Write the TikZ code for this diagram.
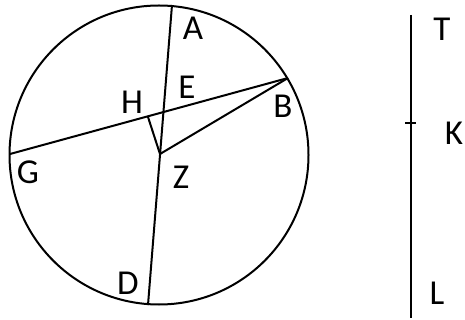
\documentclass[tikz,border=0pt]{standalone}
\usepackage{fontspec}
\setmainfont{Carlito}
\begin{document}
\begin{tikzpicture}[x=1pt,y=-1pt,line width=2pt,
  lab/.style={font=\fontsize{35}{35}\selectfont,inner sep=0pt,anchor=center}]
\useasboundingbox (0,0) rectangle (465,320);
\coordinate (O) at (159,155);
\coordinate (A) at (172,5);
\coordinate (D) at (148,305);
\coordinate (B) at (288,78);
\coordinate (G) at (10,154);
\coordinate (Z) at (160,154);
\coordinate (H) at (148,117);
\coordinate (T) at (410.7,15);
\coordinate (L) at (410.7,318);
\coordinate (K1) at (405,123);
\coordinate (K2) at (416,123);
\draw (O) circle (149.5);
\draw (A) -- (D);
\draw (G) -- (B);
\draw (B) -- (Z);
\draw (Z) -- (H);
\draw (T) -- (L);
\draw (K1) -- (K2);
\node[lab] (lA) at (193,28) {A};
\node[lab] (lE) at (187,87) {E};
\node[lab] (lH) at (132,102) {H};
\node[lab] (lB) at (283,106) {B};
\node[lab] (lG) at (28,172) {G};
\node[lab] (lZ) at (181,177) {Z};
\node[lab] (lD) at (128,283) {D};
\node[lab] (lT) at (442,29) {T};
\node[lab] (lK) at (454,133) {K};
\node[lab] (lL) at (437,293) {L};
\end{tikzpicture}
\end{document}
